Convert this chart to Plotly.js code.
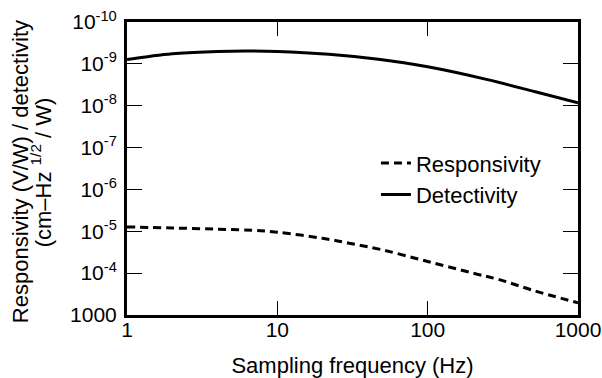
<!DOCTYPE html>
<html>
<head>
<meta charset="utf-8">
<script src="https://cdn.plot.ly/plotly-3.0.1.min.js"></script>
<style>html,body{margin:0;padding:0;background:#fff;}#chart{width:602px;height:378px;}</style>
</head>
<body>
<div id="chart"></div>
<script>
// Sampling frequency (Hz) and curve values (axis units)
var freqResp = [1, 2, 4, 7, 10, 20, 30, 50, 100, 200, 300, 500, 1000];
var responsivity = [1.27e5, 1.2e5, 1.12e5, 1.05e5, 9.5e4, 6.8e4, 5.2e4, 3.6e4, 1.9e4, 1.0e4, 7.0e3, 3.9e3, 1.95e3];
var freqDet = [1, 2, 4, 6, 10, 22, 47, 100, 250, 520, 1000];
var detectivity = [1.27e9, 1.75e9, 1.97e9, 2.03e9, 1.98e9, 1.7e9, 1.29e9, 8.5e8, 4.2e8, 2.15e8, 1.17e8];

var xTickVals = [1, 10, 100, 1000];
var xTickText = ["1", "10", "100", "1000"];
var yTickVals = [1e3, 1e4, 1e5, 1e6, 1e7, 1e8, 1e9, 1e10];
var yTickText = ["1000", "10<sup>-4</sup>", "10<sup>-5</sup>", "10<sup>-6</sup>", "10<sup>-7</sup>", "10<sup>-8</sup>", "10<sup>-9</sup>", "10<sup>-10</sup>"];

var FONT = "Liberation Sans, Arial, Helvetica, sans-serif";

var traces = [
  {x: freqResp, y: responsivity, name: "Responsivity", type: "scatter", mode: "lines",
   line: {color: "#000", width: 3, dash: "8px,5px", shape: "spline"}},
  {x: freqDet, y: detectivity, name: "Detectivity", type: "scatter", mode: "lines",
   line: {color: "#000", width: 3, shape: "spline"}}
];

var layout = {
  width: 602, height: 378,
  margin: {l: 127, r: 24, t: 22, b: 63},
  paper_bgcolor: "#fff", plot_bgcolor: "#fff",
  font: {family: FONT, size: 21, color: "#000"},
  showlegend: true,
  legend: {x: 0.552, y: 0.59, xanchor: "left", yanchor: "top", bgcolor: "rgba(0,0,0,0)",
           font: {family: FONT, size: 22, color: "#000"}},
  xaxis: {
    type: "log", range: [0, 3],
    tickvals: xTickVals, ticktext: xTickText,
    ticks: "inside", ticklen: 14, tickwidth: 1, tickcolor: "#000",
    showline: true, linecolor: "#000", linewidth: 3, mirror: "ticks",
    showgrid: false, zeroline: false,
    tickfont: {family: FONT, size: 21, color: "#000"},
    ticklabelstandoff: -6,
    title: {text: "Sampling frequency (Hz)", font: {family: FONT, size: 22, color: "#000"}, standoff: 20}
  },
  yaxis: {
    type: "log", range: [3, 10],
    tickvals: yTickVals, ticktext: yTickText,
    ticks: "inside", ticklen: 15, tickwidth: 1, tickcolor: "#000",
    showline: true, linecolor: "#000", linewidth: 3, mirror: "ticks",
    showgrid: false, zeroline: false,
    tickfont: {family: FONT, size: 21, color: "#000"},
    ticklabelstandoff: 3,
    title: {text: ""}
  },
  annotations: [
    {text: "Responsivity (V/W) / detectivity", xref: "paper", yref: "paper",
     x: -0.237, y: 0.488, xanchor: "center", yanchor: "middle", textangle: -90, showarrow: false,
     font: {family: FONT, size: 22, color: "#000"}},
    {text: "(cm–Hz <sup>1/2</sup> / W)", xref: "paper", yref: "paper",
     x: -0.19, y: 0.488, xanchor: "center", yanchor: "middle", textangle: -90, showarrow: false,
     font: {family: FONT, size: 22, color: "#000"}}
  ]
};

Plotly.newPlot("chart", traces, layout, {displayModeBar: false, staticPlot: true});
</script>
</body>
</html>
